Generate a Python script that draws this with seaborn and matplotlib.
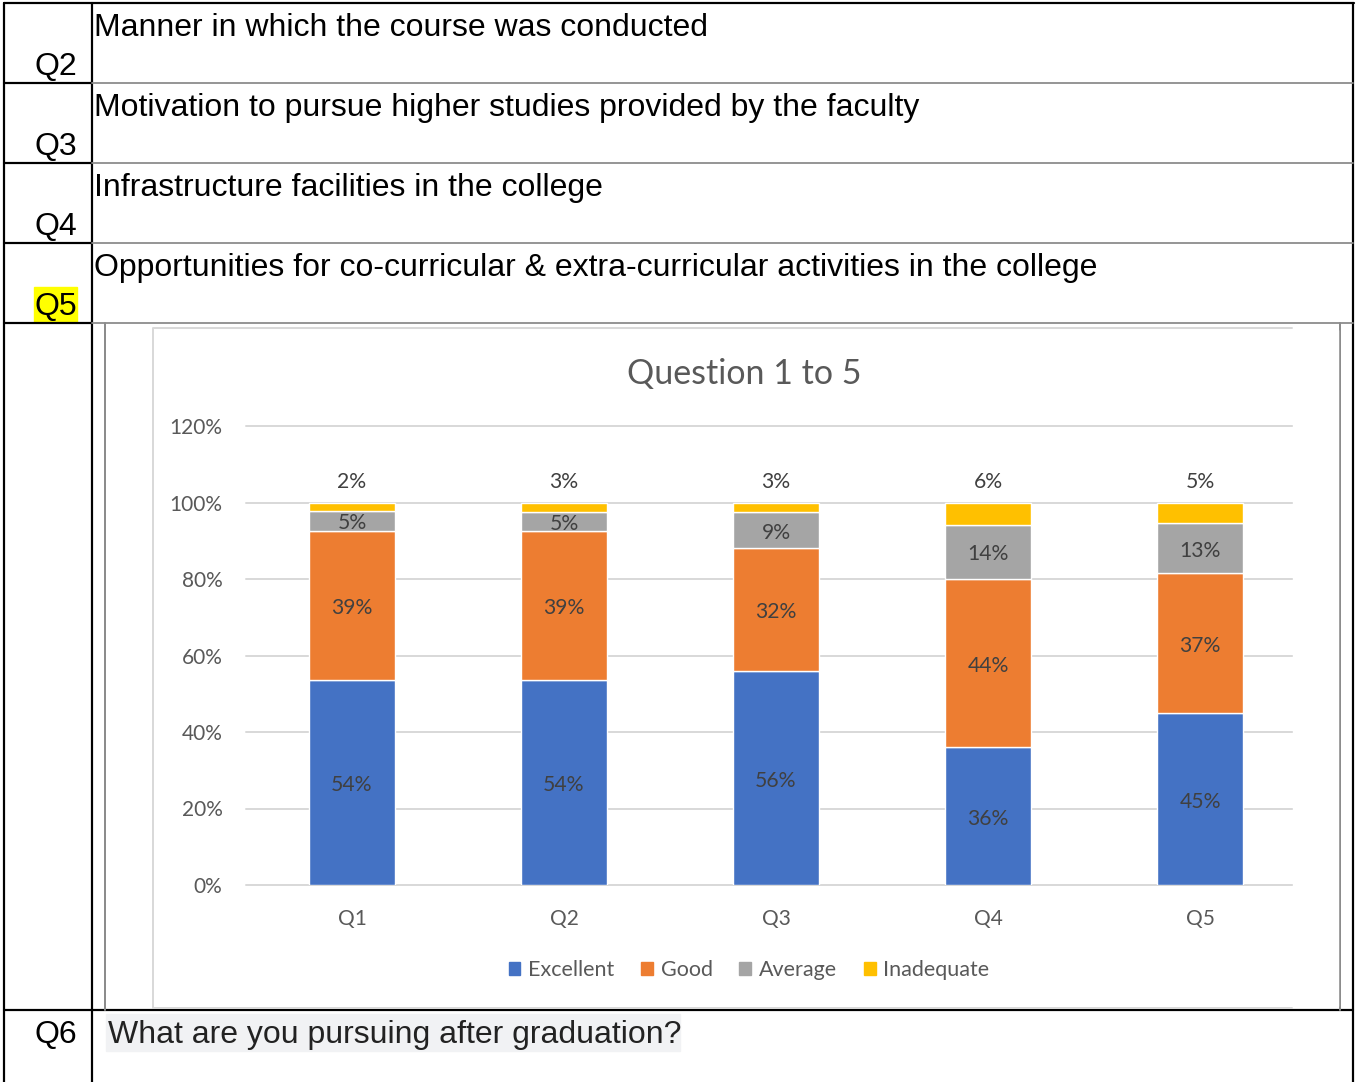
import matplotlib
matplotlib.use("Agg")
import matplotlib.pyplot as plt
from matplotlib.patches import Patch, Rectangle
import seaborn as sns

# table rows above the chart
row_codes = ["Q2", "Q3", "Q4", "Q5"]
row_texts = [
    "Manner in which the course was conducted",
    "Motivation to pursue higher studies provided by the faculty",
    "Infrastructure facilities in the college",
    "Opportunities for co-curricular & extra-curricular activities in the college",
]
last_code = "Q6"
last_text = "What are you pursuing after graduation?"

# chart data (share of responses)
questions = ["Q1", "Q2", "Q3", "Q4", "Q5"]
excellent = [0.536, 0.536, 0.560, 0.361, 0.450]
good = [0.390, 0.390, 0.322, 0.440, 0.366]
average = [0.053, 0.048, 0.092, 0.141, 0.130]
inadequate = [0.021, 0.026, 0.026, 0.058, 0.054]
series_names = ["Excellent", "Good", "Average", "Inadequate"]
series_colors = ["#4472C4", "#ED7D31", "#A5A5A5", "#FFC000"]
y_ticks = [0, 0.2, 0.4, 0.6, 0.8, 1.0, 1.2]

sns.set_style("white")
plt.rcParams["font.family"] = ["Liberation Sans", "DejaVu Sans"]

W, H = 1359, 1082
fig = plt.figure(figsize=(W / 100, H / 100), dpi=100)

# background layer in pixel coordinates for the document table
bg = fig.add_axes([0, 0, 1, 1])
bg.set_xlim(0, W)
bg.set_ylim(H, 0)
bg.axis("off")

def px(lw):
    return lw * 0.72

black, grey = "#000000", "#8C8C8C"
# outer frame and column divider
bg.plot([4, 4], [3, H], color=black, lw=px(2.2))
bg.plot([4, 1354], [3, 3], color=black, lw=px(2.2))
bg.plot([1353, 1353], [3, H], color=black, lw=px(2.2))
bg.plot([92, 92], [3, H], color=black, lw=px(2.2))
# row separators
for y in [83, 163, 243, 323]:
    bg.plot([4, 92], [y, y], color=black, lw=px(2.2))
    bg.plot([92, 1353], [y, y], color=grey, lw=px(1.8))
bg.plot([4, 1353], [1010, 1010], color=black, lw=px(2.2))
# chart cell inner borders
bg.plot([105, 105], [323, 1010], color=grey, lw=px(2))
bg.plot([1340, 1340], [323, 1010], color=grey, lw=px(2))

for i, (code, text) in enumerate(zip(row_codes, row_texts)):
    top = 3 + 80 * i
    bg.text(94, top + 33, text, fontsize=23, ha="left", va="baseline", color="black")
    bg.text(77, top + 72, code, fontsize=23, ha="right", va="baseline", color="black")
    if code == "Q5":
        bg.add_patch(Rectangle((34, 287), 43, 35, color="#FFFF00", zorder=0))

bg.add_patch(Rectangle((106, 1014), 574, 37, color="#F1F2F4", zorder=0))
bg.text(77, 1043, last_code, fontsize=23, ha="right", va="baseline", color="black")
bg.text(108, 1043, last_text, fontsize=23, ha="left", va="baseline", color="#222222")

# chart
chart_font = ["Lato", "DejaVu Sans"]
label_color = "#404040"
tick_color = "#595959"

ax = fig.add_axes([246 / W, 1 - 885 / H, (1306 - 246) / W, (885 - 426) / H])
ax.set_facecolor("none")
bottom = [0.0] * len(questions)
for name, vals, col in zip(series_names, [excellent, good, average, inadequate], series_colors):
    sns.barplot(x=questions, y=vals, bottom=bottom, color=col, width=0.405,
                saturation=1, errorbar=None, ax=ax, zorder=3)
    for i, v in enumerate(vals):
        if name == "Inadequate":
            ax.annotate(f"{round(v * 100):d}%", (i, bottom[i] + v), xytext=(0, 14.5),
                        textcoords="offset points", ha="center", va="center",
                        fontsize=15.2, color=label_color, family=chart_font)
        else:
            ax.annotate(f"{round(v * 100):d}%", (i, bottom[i] + v / 2), xytext=(0, -2),
                        textcoords="offset points", ha="center", va="center",
                        fontsize=15.2, color=label_color, family=chart_font, zorder=4)
    bottom = [b + v for b, v in zip(bottom, vals)]

ax.set_xlim(-0.5, 4.5)
ax.set_ylim(0, 1.2)
ax.set_yticks(y_ticks)
ax.set_yticklabels([f"{int(round(t * 100))}%" for t in y_ticks])
ax.set_xlabel("")
ax.set_ylabel("")
ax.yaxis.grid(True, color="#D9D9D9", lw=px(2))
for gl in ax.get_ygridlines():
    gl.set_clip_on(False)
ax.set_axisbelow(True)
sns.despine(ax=ax, left=True, bottom=True)
ax.tick_params(axis="both", length=0, labelsize=15, labelcolor=tick_color)
ax.tick_params(axis="y", pad=17)
ax.tick_params(axis="x", pad=17)
for lab in ax.get_xticklabels() + ax.get_yticklabels():
    lab.set_family(chart_font)

# the chart object is cut off on its right side in the document
top_layer = fig.add_axes([0, 0, 1, 1], zorder=10)
top_layer.set_xlim(0, W)
top_layer.set_ylim(H, 0)
top_layer.axis("off")
top_layer.add_patch(Rectangle((1293, 330), 45, 676, color="white"))
top_layer.plot([153, 153, 1292], [1008, 328, 328], color="#D9D9D9", lw=px(2))
top_layer.plot([153, 1292], [1008, 1008], color="#D9D9D9", lw=px(2))

fig.text(744 / W, 1 - 374 / H, "Question 1 to 5", ha="center", va="center",
         fontsize=24.5, color=tick_color, family=chart_font)

handles = [Patch(color=c, label=n) for n, c in zip(series_names, series_colors)]
fig.legend(handles=handles, loc="center", bbox_to_anchor=(749 / W, 1 - 970 / H), ncol=4,
           frameon=False, handlelength=0.55, handleheight=0.55, handletextpad=0.35,
           columnspacing=1.25, prop={"family": chart_font, "size": 15.5},
           labelcolor=tick_color)

fig.savefig("out.png", dpi=100)
